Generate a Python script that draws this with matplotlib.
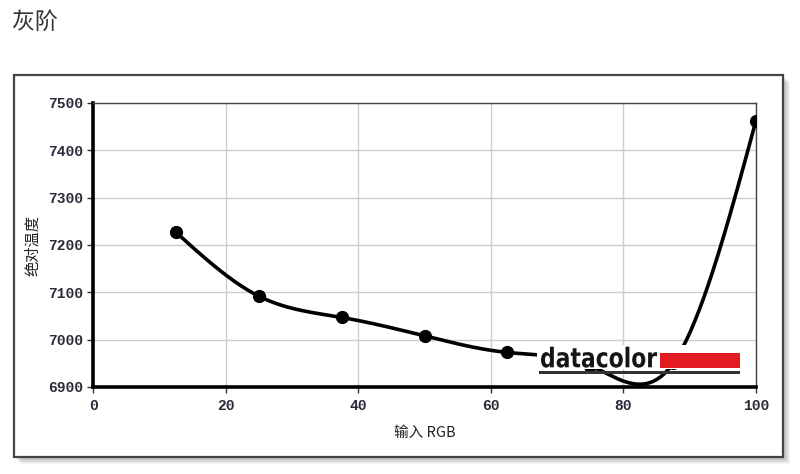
import numpy as np
import matplotlib
matplotlib.use('Agg')
import matplotlib.pyplot as plt
from matplotlib.patches import Rectangle, PathPatch
from matplotlib.textpath import TextPath
from matplotlib.font_manager import FontProperties
from matplotlib.transforms import Affine2D

# data
rgb_input = [12.5, 25, 37.5, 50, 62.5, 75, 87.5, 100]
abs_temp = [7227, 7092, 7047, 7008, 6973, 6945, 6950, 7463]
x_ticks = [0, 20, 40, 60, 80, 100]
y_ticks = [6900, 7000, 7100, 7200, 7300, 7400, 7500]
title_text = '灰阶'
x_label = '输入 RGB'
y_label = '绝对温度'


def natural_spline(x, y, n=400):
    # natural cubic spline through the measured points
    x = np.asarray(x, float)
    y = np.asarray(y, float)
    k = len(x)
    h = np.diff(x)
    A = np.zeros((k, k))
    b = np.zeros(k)
    A[0, 0] = A[-1, -1] = 1
    for i in range(1, k - 1):
        A[i, i - 1] = h[i - 1]
        A[i, i] = 2 * (h[i - 1] + h[i])
        A[i, i + 1] = h[i]
        b[i] = 6 * ((y[i + 1] - y[i]) / h[i] - (y[i] - y[i - 1]) / h[i - 1])
    M = np.linalg.solve(A, b)
    xs = np.linspace(x[0], x[-1], n)
    idx = np.clip(np.searchsorted(x, xs) - 1, 0, k - 2)
    hi = h[idx]
    a = (x[idx + 1] - xs) / hi
    t = (xs - x[idx]) / hi
    ys = a * y[idx] + t * y[idx + 1] + ((a ** 3 - a) * M[idx] + (t ** 3 - t) * M[idx + 1]) * hi ** 2 / 6
    return xs, ys


W, H = 800, 474
fig = plt.figure(figsize=(W / 100, H / 100), dpi=100)
px = Affine2D().scale(1 / W, 1 / H) + fig.transFigure


def box(x0, y0, x1, y1, **kw):
    # rectangle given in pixel coords measured from the top
    r = Rectangle((x0, H - y1), x1 - x0, y1 - y0, transform=px, **kw)
    fig.add_artist(r)
    return r


# title outside the panel
fig.text(12 / W, 1 - 22 / H, title_text, fontsize=16.5, color='#333333',
         family=['Noto Sans CJK SC', 'DejaVu Sans'], va='center', ha='left')

# panel with soft shadow
for i in range(7, 0, -1):
    box(14 + i, 75 + i, 783 + i, 457 + i, facecolor='#000000', alpha=0.045,
        edgecolor='none', zorder=-3)
box(14, 75, 783, 457, facecolor='white', edgecolor='#444444', lw=1.6, zorder=-2)

ax = fig.add_axes([93 / W, 1 - 387 / H, (756 - 93) / W, (387 - 103) / H])
ax.set_facecolor('white')

xs, ys = natural_spline(rgb_input, abs_temp)
ax.plot(xs, ys, color='black', lw=2.6, solid_capstyle='round', zorder=3)
ax.plot(rgb_input, abs_temp, 'o', color='black', ms=8.5, zorder=4)

ax.set_xlim(0, 100)
ax.set_ylim(6900, 7500)
ax.set_xticks(x_ticks)
ax.set_yticks(y_ticks)
ax.grid(True, color='#cccccc', lw=1)
ax.set_axisbelow(True)

for side in ['left', 'bottom']:
    ax.spines[side].set_linewidth(2.6)
    ax.spines[side].set_color('black')
for side in ['top', 'right']:
    ax.spines[side].set_linewidth(1)
    ax.spines[side].set_color('#444444')

ax.tick_params(direction='out', length=4, width=1, color='#333333', pad=3)
ax.tick_params(axis='x', pad=5)
tick_font = FontProperties(family='Liberation Mono', weight='bold', size=10.5)
for lbl in ax.get_xticklabels() + ax.get_yticklabels():
    lbl.set_fontproperties(tick_font)
    lbl.set_color('#2a2a3a')

ax.set_xlabel(x_label, fontsize=10.5, family=['Noto Sans CJK SC', 'DejaVu Sans'],
              color='#222222', labelpad=9)
ax.set_ylabel(y_label, fontsize=11, family=['Noto Sans CJK SC', 'DejaVu Sans'],
              color='#222222', labelpad=5)

# datacolor logo sitting over the plot
box(537, 345, 743, 369, facecolor='white', edgecolor='none', zorder=5)
box(660, 353, 740, 368, facecolor='#e31b23', edgecolor='none', zorder=6)
box(539, 370.5, 740, 373.5, facecolor='#333333', edgecolor='none', zorder=6)
tp = TextPath((0, 0), 'datacolor', size=1,
              prop=FontProperties(family='DejaVu Sans', weight='bold'))
ext = tp.get_extents()
sx = (657 - 541) / ext.width
sy = (367.3 - 346.7) / ext.y1
tr = Affine2D().translate(-ext.x0, 0).scale(sx, sy).translate(541, H - 367.3) + px
fig.add_artist(PathPatch(tp, transform=tr, facecolor='#151515', edgecolor='none', zorder=7))

fig.savefig('out.png', dpi=100)
